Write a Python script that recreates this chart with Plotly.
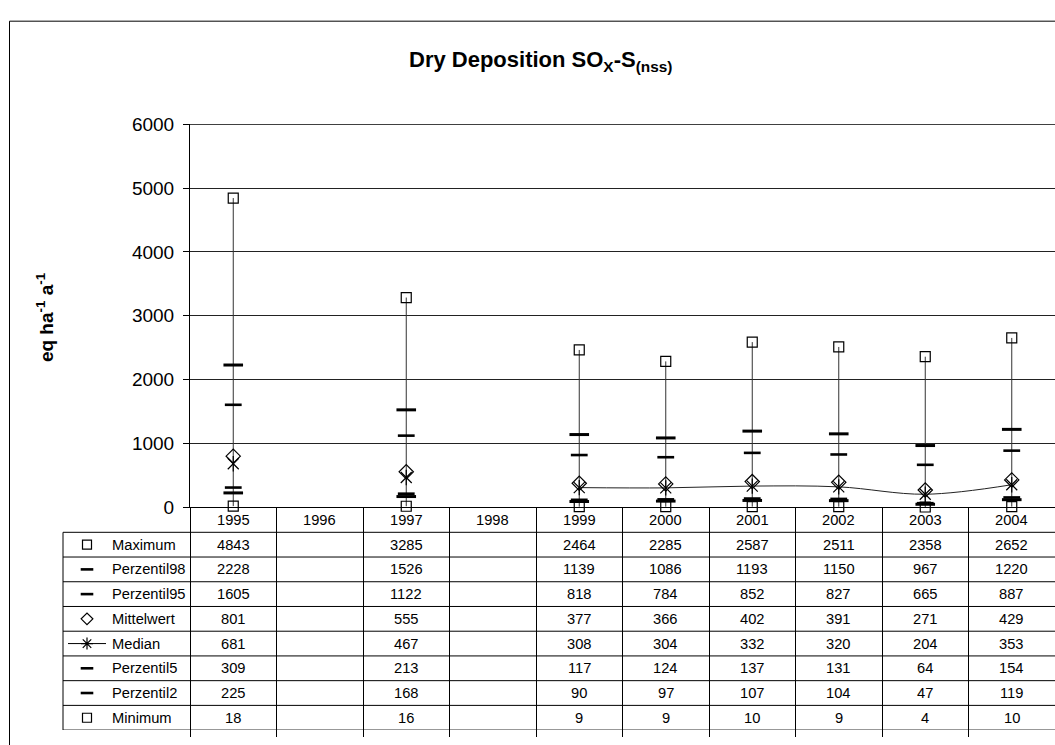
import plotly.graph_objects as go

# ---- data -----------------------------------------------------------------
years = ["1995", "1996", "1997", "1998", "1999", "2000", "2001", "2002", "2003", "2004"]
maximum = [4843, None, 3285, None, 2464, 2285, 2587, 2511, 2358, 2652]
perzentil98 = [2228, None, 1526, None, 1139, 1086, 1193, 1150, 967, 1220]
perzentil95 = [1605, None, 1122, None, 818, 784, 852, 827, 665, 887]
mittelwert = [801, None, 555, None, 377, 366, 402, 391, 271, 429]
median = [681, None, 467, None, 308, 304, 332, 320, 204, 353]
perzentil5 = [309, None, 213, None, 117, 124, 137, 131, 64, 154]
perzentil2 = [225, None, 168, None, 90, 97, 107, 104, 47, 119]
minimum = [18, None, 16, None, 9, 9, 10, 9, 4, 10]

series_names = ["Maximum", "Perzentil98", "Perzentil95", "Mittelwert",
                "Median", "Perzentil5", "Perzentil2", "Minimum"]
series_values = [maximum, perzentil98, perzentil95, mittelwert,
                 median, perzentil5, perzentil2, minimum]
y_ticks = [0, 1000, 2000, 3000, 4000, 5000, 6000]

title_text = "<b>Dry Deposition SO<sub>X</sub>-S<sub>(nss)</sub></b>"
y_title = "<b>eq ha<sup>-1</sup> a<sup>-1</sup></b>"

# ---- geometry helpers (page pixels -> paper fractions) ---------------------
W, H = 1055, 745
def px(x):
    return x / W
def py(y):
    return 1 - y / H

FONT = "Liberation Sans, Arial, sans-serif"
INK = "#000000"

# marker style per series: symbol, size, stroke width (plot / table key)
styles = {
    "Maximum":     dict(symbol="square-open", size=10, lw=1.2, ksize=9, klw=1.2),
    "Perzentil98": dict(symbol="line-ew", size=14, lw=3, ksize=9, klw=2.6),
    "Perzentil95": dict(symbol="line-ew", size=12, lw=2.6, ksize=9, klw=2.6),
    "Mittelwert":  dict(symbol="diamond-open", size=11, lw=1.2, ksize=9, klw=1.2),
    "Median":      dict(symbol="x-thin", size=11, lw=1.2, ksize=10, klw=1.2),
    "Perzentil5":  dict(symbol="line-ew", size=12, lw=2.6, ksize=9, klw=2.6),
    "Perzentil2":  dict(symbol="line-ew", size=14, lw=3, ksize=9, klw=2.6),
    "Minimum":     dict(symbol="square-open", size=10, lw=1.2, ksize=9, klw=1.2),
}

fig = go.Figure()

# high-low lines from minimum to maximum
hl_x, hl_y = [], []
for yr, lo, hi in zip(years, minimum, maximum):
    if lo is None or hi is None:
        continue
    hl_x += [yr, yr, None]
    hl_y += [lo, hi, None]
fig.add_trace(go.Scatter(x=hl_x, y=hl_y, mode="lines",
                         line=dict(color="#333333", width=1),
                         hoverinfo="skip", showlegend=False))

# smoothed median line
fig.add_trace(go.Scatter(x=years, y=median, mode="lines",
                         line=dict(color="#222222", width=1, shape="spline"),
                         connectgaps=False, hoverinfo="skip", showlegend=False))

# statistic markers
for name, vals in zip(series_names, series_values):
    st = styles[name]
    fig.add_trace(go.Scatter(
        x=years, y=vals, mode="markers", name=name, cliponaxis=False,
        marker=dict(symbol=st["symbol"], size=st["size"], color=INK,
                    line=dict(color=INK, width=st["lw"])),
        showlegend=False))
    if name == "Median":
        # vertical stroke completes the asterisk
        fig.add_trace(go.Scatter(
            x=years, y=vals, mode="markers", cliponaxis=False, hoverinfo="skip",
            marker=dict(symbol="line-ns", size=st["size"], color=INK,
                        line=dict(color=INK, width=st["lw"])),
            showlegend=False))

# ---- data table keys (x2 / y2 span the table block) ------------------------
KEY_X = 24
for i, name in enumerate(series_names):
    st = styles[name]
    row = i + 0.5
    if name == "Median":
        fig.add_trace(go.Scatter(x=[5, 43], y=[row, row], mode="lines",
                                 xaxis="x2", yaxis="y2",
                                 line=dict(color=INK, width=1),
                                 hoverinfo="skip", showlegend=False))
        fig.add_trace(go.Scatter(x=[KEY_X], y=[row], mode="markers",
                                 xaxis="x2", yaxis="y2", hoverinfo="skip",
                                 marker=dict(symbol="asterisk", size=st["ksize"],
                                             color=INK,
                                             line=dict(color=INK, width=st["klw"])),
                                 showlegend=False))
    else:
        fig.add_trace(go.Scatter(x=[KEY_X], y=[row], mode="markers",
                                 xaxis="x2", yaxis="y2", hoverinfo="skip",
                                 marker=dict(symbol=st["symbol"], size=st["ksize"],
                                             color=INK,
                                             line=dict(color=INK, width=st["klw"])),
                                 showlegend=False))

annotations = []
shapes = []
TABLE_FONT = dict(family=FONT, size=14.7, color=INK)

# header row: years (placed by category index on the x axis)
for j, yr in enumerate(years):
    annotations.append(dict(x=j, y=-0.5, xref="x", yref="y2", text=yr,
                            showarrow=False, font=TABLE_FONT,
                            xanchor="center", yanchor="middle"))

# series rows: names and values
for i, (name, vals) in enumerate(zip(series_names, series_values)):
    annotations.append(dict(x=47, y=i + 0.5, xref="x2", yref="y2", text=name,
                            showarrow=False, font=TABLE_FONT,
                            xanchor="left", yanchor="middle"))
    for j, v in enumerate(vals):
        if v is None:
            continue
        annotations.append(dict(x=j, y=i + 0.5, xref="x", yref="y2",
                                text=str(v), showarrow=False, font=TABLE_FONT,
                                xanchor="center", yanchor="middle"))

# horizontal table rules
for k in range(0, len(series_names) + 1):
    shapes.append(dict(type="line", xref="paper", yref="y2",
                       x0=px(63), x1=1.0, y0=k, y1=k,
                       line=dict(color=INK, width=1)))
# left edge of the key column
shapes.append(dict(type="line", xref="paper", yref="y2",
                   x0=px(63), x1=px(63), y0=0, y1=len(series_names),
                   line=dict(color=INK, width=1)))
# plot-area top edge
shapes.append(dict(type="line", xref="paper", yref="y",
                   x0=px(190), x1=1.0, y0=6000, y1=6000,
                   line=dict(color=INK, width=1.6)))
# chart frame
shapes.append(dict(type="rect", xref="paper", yref="paper",
                   x0=px(9.5), x1=1.05, y0=-0.05, y1=py(11.5),
                   line=dict(color=INK, width=1), fillcolor="rgba(0,0,0,0)",
                   layer="below"))

# titles
annotations.append(dict(x=px(540), y=py(52), xref="paper", yref="paper",
                        text=title_text, showarrow=False,
                        font=dict(family=FONT, size=22, color=INK),
                        xanchor="center", yanchor="middle"))
annotations.append(dict(x=px(45), y=py(316), xref="paper", yref="paper",
                        text=y_title, showarrow=False, textangle=-90,
                        font=dict(family=FONT, size=19, color=INK),
                        xanchor="center", yanchor="middle"))

fig.update_layout(
    width=W, height=H,
    margin=dict(l=0, r=0, t=0, b=0),
    paper_bgcolor="white", plot_bgcolor="white",
    font=dict(family=FONT, color=INK),
    showlegend=False,
    xaxis=dict(type="category", categoryorder="array", categoryarray=years,
               range=[-0.5, len(years) - 0.5],
               domain=[px(190), 1.0], anchor="y",
               showline=True, linecolor=INK, linewidth=1,
               showgrid=False, zeroline=False,
               ticks="outside", tickson="boundaries",
               ticklen=741 - 512, tickcolor=INK, tickwidth=1,
               showticklabels=False, fixedrange=True),
    yaxis=dict(range=[0, 6000], domain=[py(511.7), py(117.5)], anchor="x",
               tickvals=y_ticks, ticktext=[str(t) for t in y_ticks],
               showline=True, linecolor=INK, linewidth=1,
               ticks="outside", ticklen=6, tickcolor=INK,
               ticklabelstandoff=5,
               tickfont=dict(family=FONT, size=19, color=INK),
               showgrid=True, gridcolor="#222222", gridwidth=1,
               zeroline=False, fixedrange=True),
    xaxis2=dict(domain=[px(63), px(190)], range=[0, 127], anchor="y2",
                visible=False, fixedrange=True),
    yaxis2=dict(domain=[py(741), py(512)], range=[8, -1], anchor="x2",
                visible=False, fixedrange=True),
    annotations=annotations,
    shapes=shapes,
)

fig.write_html("out.html")
